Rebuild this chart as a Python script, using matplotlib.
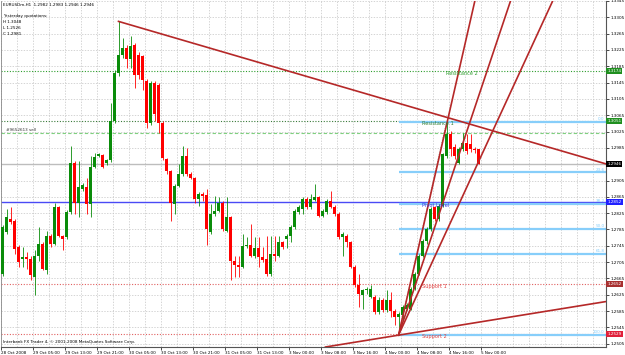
import numpy as np
import matplotlib
matplotlib.use("Agg")
import matplotlib.pyplot as plt
import matplotlib.transforms as mtransforms

# EURUSDm H1 candles (bar 0 = 28 Oct 2008 late evening)
opens = [1.2677, 1.2778, 1.2811, 1.2807, 1.2742, 1.2713, 1.2717, 1.2713, 1.2669, 1.2721,
         1.2750, 1.2685, 1.2770, 1.2750, 1.2839, 1.2770, 1.2766, 1.2827, 1.2947, 1.2849,
         1.2884, 1.2890, 1.2847, 1.2939, 1.2965, 1.2968, 1.2947, 1.2955, 1.3051, 1.3169,
         1.3213, 1.3231, 1.3203, 1.3236, 1.3213, 1.3209, 1.3150, 1.3047, 1.3144, 1.3140,
         1.3047, 1.2957, 1.2929, 1.2847, 1.2892, 1.2921, 1.2965, 1.2921, 1.2911, 1.2860,
         1.2872, 1.2869, 1.2778, 1.2823, 1.2831, 1.2851, 1.2782, 1.2815, 1.2709, 1.2699,
         1.2693, 1.2744, 1.2746, 1.2719, 1.2739, 1.2717, 1.2713, 1.2677, 1.2725, 1.2721,
         1.2754, 1.2762, 1.2770, 1.2790, 1.2827, 1.2835, 1.2860, 1.2839, 1.2858, 1.2864,
         1.2819, 1.2827, 1.2856, 1.2841, 1.2823, 1.2766, 1.2770, 1.2754, 1.2693, 1.2648,
         1.2624, 1.2636, 1.2620, 1.2620, 1.2583, 1.2613, 1.2587, 1.2613, 1.2586, 1.2571,
         1.2575, 1.2591, 1.2591, 1.2640, 1.2677, 1.2721, 1.2758, 1.2786, 1.2839, 1.2811,
         1.2843, 1.2965, 1.3018, 1.2986, 1.2949, 1.2982, 1.2998, 1.2994, 1.2982, 1.2982]
highs = [1.2795, 1.2835, 1.2839, 1.2811, 1.2746, 1.2742, 1.2729, 1.2721, 1.2734, 1.2790,
         1.2755, 1.2782, 1.2775, 1.2851, 1.2843, 1.2772, 1.2833, 1.2990, 1.2953, 1.2953,
         1.2899, 1.2912, 1.2965, 1.2973, 1.2973, 1.2970, 1.2958, 1.3095, 1.3175, 1.3295,
         1.3254, 1.3236, 1.3258, 1.3242, 1.3220, 1.3213, 1.3155, 1.3150, 1.3148, 1.3145,
         1.3050, 1.2960, 1.2930, 1.2896, 1.2945, 1.2990, 1.2985, 1.2925, 1.2914, 1.2878,
         1.2876, 1.2884, 1.2847, 1.2868, 1.2864, 1.2856, 1.2864, 1.2819, 1.2721, 1.2721,
         1.2774, 1.2766, 1.2799, 1.2766, 1.2766, 1.2742, 1.2770, 1.2770, 1.2770, 1.2770,
         1.2758, 1.2774, 1.2795, 1.2835, 1.2845, 1.2864, 1.2864, 1.2872, 1.2896, 1.2868,
         1.2835, 1.2860, 1.2880, 1.2845, 1.2827, 1.2778, 1.2774, 1.2758, 1.2697, 1.2677,
         1.2640, 1.2644, 1.2648, 1.2624, 1.2620, 1.2616, 1.2636, 1.2632, 1.2590, 1.2583,
         1.2600, 1.2605, 1.2644, 1.2681, 1.2725, 1.2762, 1.2790, 1.2839, 1.2843, 1.2847,
         1.2973, 1.3048, 1.3026, 1.2994, 1.2986, 1.3022, 1.3018, 1.3018, 1.2986, 1.2983]
lows = [1.2672, 1.2775, 1.2799, 1.2725, 1.2693, 1.2693, 1.2689, 1.2660, 1.2624, 1.2709,
        1.2685, 1.2677, 1.2742, 1.2746, 1.2766, 1.2734, 1.2762, 1.2823, 1.2823, 1.2815,
        1.2880, 1.2823, 1.2815, 1.2935, 1.2962, 1.2935, 1.2943, 1.2951, 1.3045, 1.3160,
        1.3205, 1.3181, 1.3181, 1.3132, 1.3155, 1.3128, 1.3034, 1.3040, 1.3051, 1.3022,
        1.2955, 1.2920, 1.2807, 1.2823, 1.2888, 1.2916, 1.2916, 1.2908, 1.2851, 1.2843,
        1.2856, 1.2746, 1.2774, 1.2819, 1.2827, 1.2782, 1.2778, 1.2660, 1.2668, 1.2668,
        1.2690, 1.2740, 1.2717, 1.2715, 1.2693, 1.2705, 1.2672, 1.2672, 1.2709, 1.2717,
        1.2738, 1.2740, 1.2754, 1.2786, 1.2823, 1.2823, 1.2835, 1.2835, 1.2855, 1.2815,
        1.2815, 1.2823, 1.2837, 1.2819, 1.2762, 1.2721, 1.2742, 1.2690, 1.2644, 1.2595,
        1.2591, 1.2628, 1.2616, 1.2579, 1.2579, 1.2583, 1.2583, 1.2571, 1.2551, 1.2526,
        1.2563, 1.2587, 1.2587, 1.2636, 1.2673, 1.2717, 1.2750, 1.2782, 1.2807, 1.2807,
        1.2839, 1.2960, 1.2965, 1.2957, 1.2945, 1.2977, 1.2969, 1.2975, 1.2973, 1.2946]
closes = [1.2790, 1.2815, 1.2803, 1.2738, 1.2705, 1.2717, 1.2713, 1.2673, 1.2721, 1.2750,
          1.2689, 1.2770, 1.2750, 1.2839, 1.2770, 1.2762, 1.2829, 1.2947, 1.2849, 1.2888,
          1.2894, 1.2847, 1.2939, 1.2963, 1.2969, 1.2939, 1.2955, 1.3051, 1.3169, 1.3213,
          1.3229, 1.3203, 1.3234, 1.3164, 1.3164, 1.3152, 1.3047, 1.3144, 1.3067, 1.3047,
          1.2961, 1.2929, 1.2851, 1.2892, 1.2921, 1.2965, 1.2921, 1.2912, 1.2860, 1.2873,
          1.2868, 1.2786, 1.2823, 1.2831, 1.2851, 1.2786, 1.2815, 1.2709, 1.2699, 1.2693,
          1.2744, 1.2746, 1.2721, 1.2739, 1.2717, 1.2711, 1.2677, 1.2725, 1.2721, 1.2754,
          1.2742, 1.2770, 1.2790, 1.2831, 1.2839, 1.2860, 1.2839, 1.2860, 1.2864, 1.2819,
          1.2831, 1.2856, 1.2841, 1.2823, 1.2766, 1.2774, 1.2754, 1.2693, 1.2648, 1.2628,
          1.2636, 1.2640, 1.2640, 1.2583, 1.2613, 1.2587, 1.2613, 1.2586, 1.2571, 1.2579,
          1.2595, 1.2599, 1.2640, 1.2677, 1.2721, 1.2758, 1.2786, 1.2835, 1.2811, 1.2843,
          1.2969, 1.3018, 1.2982, 1.2965, 1.2982, 1.2998, 1.2977, 1.2982, 1.2981, 1.2946]

time_labels = ["28 Oct 2008", "29 Oct 05:00", "29 Oct 13:00", "29 Oct 21:00",
               "30 Oct 05:00", "30 Oct 13:00", "30 Oct 21:00", "31 Oct 05:00",
               "31 Oct 13:00", "3 Nov 00:00", "3 Nov 08:00", "3 Nov 16:00",
               "4 Nov 00:00", "4 Nov 08:00", "4 Nov 16:00", "5 Nov 00:00"]

# yesterday's quotations and the fibonacci pivot levels drawn from them
yest_high, yest_low, yest_close = 1.3048, 1.2526, 1.2981
pivot_names = ["Resistance 2", "Resistance 1", "Pivot Level", "Support 1", "Support 2"]
pivot_prices = [1.3174, 1.3051, 1.2852, 1.2652, 1.2529]

bid_price = 1.2946
order_price = 1.3022
order_text = "#9652613 sell"

# fibo retracement from the 4 Nov low to the 4 Nov high
fib_levels = [0.0, 23.6, 38.2, 50.0, 61.8, 100.0]
fib_low_bar, fib_high_bar = 99, 111

# hand drawn trend lines (bar, price) anchors
down_line = [(29, 1.3295), (111, 1.3060)]
up_line = [(99, 1.2526), (150, 1.2607)]
fan_origin = (99, 1.2526)
fan_bar = 111
fan_prices = [1.3041, 1.2877, 1.2781]

GREEN = "#0a8c0a"
RED = "#ff0000"
LINE_RED = "#b52828"
FIB_BLUE = "#87cefa"
FS = 3.0

fig = plt.figure(figsize=(6.25, 3.55), dpi=100)
ax = fig.add_axes([1 / 625, 8 / 355, 605 / 625, 346 / 355])
x_lo, x_hi = -0.375, 150.875
ax.set_xlim(x_lo, x_hi)
ax.set_ylim(1.24970, 1.33409)

# grid and scales
yt = np.round(np.arange(1.2505, 1.3346, 0.004), 4)
ax.set_yticks(yt)
# the bid box sits on top of this one in the terminal
ax.set_yticklabels(["" if abs(v - bid_price) < 0.001 else f"{v:.4f}" for v in yt])
ax.set_xticks([8 * k - 0.375 for k in range(len(time_labels))])
ax.set_xticklabels(time_labels, ha="left")
ax.set_xticks([4 * k - 0.375 for k in range(1, 38)], minor=True)
ax.yaxis.tick_right()
ax.tick_params(axis="y", labelsize=FS, length=2, width=0.5, pad=1)
ax.tick_params(axis="x", which="major", labelsize=FS, length=2, width=0.5, pad=1)
ax.tick_params(axis="x", which="minor", length=0)
ax.grid(True, which="both", color="#c4c4c4", lw=0.5, ls=(0, (2, 2)), zorder=0)
for s in ["right", "bottom"]:
    ax.spines[s].set_color("#555555")
    ax.spines[s].set_linewidth(0.8)
ax.spines["left"].set_color("#888888")
ax.spines["left"].set_linewidth(0.6)
ax.spines["top"].set_visible(False)

full_w = dict(xmin=x_lo, xmax=x_hi)

# horizontal objects
ax.hlines(pivot_prices[0], color="#2e9e2e", lw=0.8, ls=(0, (1, 1.5)), zorder=2, **full_w)
ax.hlines(pivot_prices[1], color="#3a7a3a", lw=0.8, ls=(0, (1, 1.5)), zorder=2, **full_w)
ax.hlines(order_price, color="#7fd07f", lw=0.8, ls=(0, (3, 2)), zorder=2, **full_w)
ax.hlines(bid_price, color="#bdbdbd", lw=1.0, zorder=2, **full_w)
ax.hlines(pivot_prices[2], color="#4a4af5", lw=1.0, zorder=2, **full_w)
ax.hlines(pivot_prices[3], color="#e06060", lw=0.8, ls=(0, (1, 1.5)), zorder=2, **full_w)
ax.hlines(pivot_prices[4], color="#e06060", lw=0.8, ls=(0, (1, 1.5)), zorder=2, **full_w)

fib_range = yest_high - yest_low
for lev in fib_levels:
    p = yest_high - lev / 100 * fib_range
    ax.hlines(p, fib_low_bar, x_hi, color=FIB_BLUE, lw=1.6, zorder=2)
    ax.text(x_hi - 0.4, p + 0.0002, f"{lev:.1f}", color=FIB_BLUE, fontsize=FS,
            ha="right", va="bottom", zorder=6)
ax.plot([fib_low_bar, fib_high_bar], [yest_low, yest_high], color="#909090",
        lw=0.7, ls=(0, (1, 1.5)), zorder=4)

# candles
o, h, l, c = map(np.array, (opens, highs, lows, closes))
xs = np.arange(len(o))
cols = np.where(c >= o, GREEN, RED)
ax.vlines(xs, l, h, colors=cols, lw=0.6, zorder=3)
ax.bar(xs, np.maximum(np.abs(c - o), 0.00005), bottom=np.minimum(o, c),
       width=0.75, color=cols, lw=0, zorder=3)

# trend lines
(x1, y1), (x2, y2) = down_line
k = (y2 - y1) / (x2 - x1)
ax.plot([x1, x_hi], [y1, y1 + k * (x_hi - x1)], color=LINE_RED, lw=1.2, zorder=5)
ax.axline(up_line[0], up_line[1], color=LINE_RED, lw=1.2, zorder=5)
fx0, fy0 = fan_origin
for fp in fan_prices:
    k = (fp - fy0) / (fan_bar - fx0)
    ax.plot([fx0, x_hi], [fy0, fy0 + k * (x_hi - fx0)], color=LINE_RED, lw=1.2, zorder=5)

# pivot texts
pivot_text_bars = [111, 105, 105, 105, 105]
pivot_text_cols = ["#2e9e2e", "#2e7d2e", "#3535e0", "#e04040", "#e04040"]
for name, p, bx, col in zip(pivot_names, pivot_prices, pivot_text_bars, pivot_text_cols):
    ax.text(bx, p - 0.0001, name, color=col, fontsize=FS + 0.6, ha="left", va="top", zorder=6)

ax.text(1, order_price + 0.0003, order_text, color="#333333", fontsize=FS,
        ha="left", va="bottom", zorder=6)

# price boxes on the right scale
trans = mtransforms.blended_transform_factory(ax.transAxes, ax.transData)
box_prices = [pivot_prices[0], pivot_prices[1], bid_price, pivot_prices[2],
              pivot_prices[3], pivot_prices[4]]
box_cols = ["#1f8f1f", "#1f8f1f", "#000000", "#2020ff", "#a83030", "#e0203a"]
for p, col in zip(box_prices, box_cols):
    ax.text(1.002, p, f"{p:.4f}", transform=trans, color="white", fontsize=FS,
            ha="left", va="center", clip_on=False, zorder=10,
            bbox=dict(boxstyle="square,pad=0.25", fc=col, ec="none"))

# header and footer texts
def fig_xy(px, py):
    return px / 625, 1 - py / 355

hdr = f"EURUSDm,H1  {opens[-1]:.4f} {highs[-1]:.4f} {lows[-1]:.4f} {closes[-1]:.4f}"
fig.text(*fig_xy(3, 5), hdr, fontsize=FS, va="center", ha="left")
info = ["Yesterday quotations:", f"H {yest_high:.4f}", f"L {yest_low:.4f}", f"C {yest_close:.4f}"]
for i, s in enumerate(info):
    fig.text(*fig_xy(3, 15.7 + 6 * i), s, fontsize=FS, va="center", ha="left")
fig.text(*fig_xy(3, 342), "Interbank FX Trader 4, \u00a9 2001-2008 MetaQuotes Software Corp.",
         fontsize=FS, va="center", ha="left")

fig.savefig("out.png", dpi=100)
